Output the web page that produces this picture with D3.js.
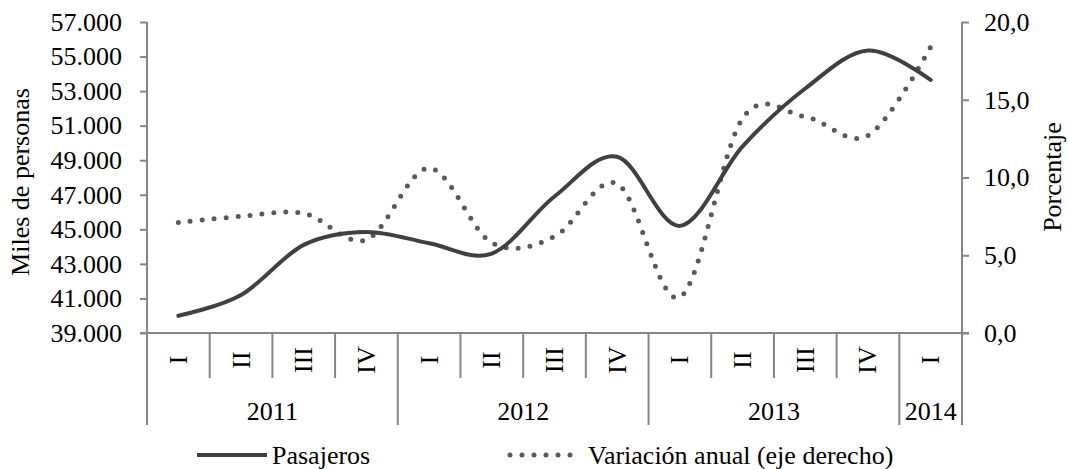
<!DOCTYPE html>
<html>
<head>
<meta charset="utf-8">
<script src="https://cdn.jsdelivr.net/npm/d3@7"></script>
<style>
  body { margin: 0; background: #fff; }
  text { font-family: "Liberation Serif", "Times New Roman", serif; fill: #000; }
</style>
</head>
<body>
<svg id="chart" width="1068" height="469"></svg>
<script>
const quarters = ["I", "II", "III", "IV", "I", "II", "III", "IV", "I", "II", "III", "IV", "I"];
const years = [
  { label: "2011", count: 4 },
  { label: "2012", count: 4 },
  { label: "2013", count: 4 },
  { label: "2014", count: 1 }
];
const pasajeros = [40000, 41200, 44100, 44850, 44200, 43600, 46900, 49200, 45200, 49800, 53150, 55350, 53650];
const variacion = [7.1, 7.5, 7.7, 6.0, 10.6, 5.8, 6.2, 9.6, 2.3, 13.8, 13.9, 12.7, 18.4];
const leftTicks = [39000, 41000, 43000, 45000, 47000, 49000, 51000, 53000, 55000, 57000];
const rightTicks = [0, 5, 10, 15, 20];

const FONT = 26;
const AXIS_COLOR = "#868686";
const PLOT_LEFT = 147, PLOT_RIGHT = 962, PLOT_TOP = 22, PLOT_BOTTOM = 333;

const svg = d3.select("#chart");

const x = d3.scaleBand().domain(d3.range(quarters.length)).range([PLOT_LEFT, PLOT_RIGHT]);
const yL = d3.scaleLinear().domain([39000, 57000]).range([PLOT_BOTTOM, PLOT_TOP]);
const yR = d3.scaleLinear().domain([0, 20]).range([PLOT_BOTTOM, PLOT_TOP]);

const fmtL = (d) => d3.format(",")(d).replace(/,/g, ".");
const fmtR = (d) => d.toFixed(1).replace(".", ",");

// left axis
const axisL = svg.append("g").attr("transform", `translate(${PLOT_LEFT},0)`)
  .call(d3.axisLeft(yL).tickValues(leftTicks).tickSize(7).tickPadding(18).tickFormat(fmtL));
axisL.select(".domain").remove();
axisL.append("line").attr("x1", 0).attr("x2", 0).attr("y1", PLOT_TOP).attr("y2", PLOT_BOTTOM);

// right axis
const axisR = svg.append("g").attr("transform", `translate(${PLOT_RIGHT},0)`)
  .call(d3.axisRight(yR).tickValues(rightTicks).tickSize(7).tickPadding(15).tickFormat(fmtR));
axisR.select(".domain").remove();
axisR.append("line").attr("x1", 0).attr("x2", 0).attr("y1", PLOT_TOP).attr("y2", PLOT_BOTTOM);

svg.selectAll(".tick text").attr("font-size", FONT).attr("font-family", "Liberation Serif").attr("fill", "#000");
svg.selectAll("g line").attr("stroke", AXIS_COLOR).attr("stroke-width", 2);

// category axis
const xa = svg.append("g");
xa.append("line").attr("x1", PLOT_LEFT - 7).attr("x2", PLOT_RIGHT + 7).attr("y1", PLOT_BOTTOM).attr("y2", PLOT_BOTTOM)
  .attr("stroke", AXIS_COLOR).attr("stroke-width", 2);

let idx = 0;
const yearStarts = [];
years.forEach((y) => { yearStarts.push(idx); idx += y.count; });
const yearBounds = new Set([...yearStarts, quarters.length]);

d3.range(quarters.length + 1).forEach((i) => {
  const xx = i < quarters.length ? x(i) : PLOT_RIGHT;
  xa.append("line").attr("x1", xx).attr("x2", xx).attr("y1", PLOT_BOTTOM)
    .attr("y2", yearBounds.has(i) ? 425 : 378)
    .attr("stroke", AXIS_COLOR).attr("stroke-width", 2);
});

xa.selectAll("text.q").data(quarters).join("text")
  .attr("class", "q")
  .attr("transform", (d, i) => `translate(${x(i) + x.bandwidth() / 2},360) rotate(-90)`)
  .attr("text-anchor", "middle")
  .attr("dominant-baseline", "central")
  .attr("font-size", FONT)
  .text((d) => d);

xa.selectAll("text.y").data(years).join("text")
  .attr("class", "y")
  .attr("x", (d, i) => {
    const s = yearStarts[i];
    const e = s + d.count;
    const xe = e < quarters.length ? x(e) : PLOT_RIGHT;
    return (x(s) + xe) / 2;
  })
  .attr("y", 420)
  .attr("text-anchor", "middle")
  .attr("font-size", FONT)
  .text((d) => d.label);

// axis titles
svg.append("text")
  .attr("transform", "translate(20,182) rotate(-90)")
  .attr("text-anchor", "middle").attr("dominant-baseline", "central")
  .attr("font-size", FONT).text("Miles de personas");
svg.append("text")
  .attr("transform", "translate(1052,177) rotate(-90)")
  .attr("text-anchor", "middle").attr("dominant-baseline", "central")
  .attr("font-size", FONT).text("Porcentaje");

// series
const cx = (i) => x(i) + x.bandwidth() / 2;
const lineL = d3.line().x((d, i) => cx(i)).y((d) => yL(d)).curve(d3.curveCatmullRom.alpha(0));
const lineR = d3.line().x((d, i) => cx(i)).y((d) => yR(d)).curve(d3.curveCatmullRom.alpha(0));

svg.append("path").datum(variacion).attr("d", lineR)
  .attr("fill", "none").attr("stroke", "#595959").attr("stroke-width", 5)
  .attr("stroke-linecap", "round").attr("stroke-dasharray", "0 12");

svg.append("path").datum(pasajeros).attr("d", lineL)
  .attr("fill", "none").attr("stroke", "#404040").attr("stroke-width", 4)
  .attr("stroke-linecap", "round");

// legend
const lg = svg.append("g");
lg.append("line").attr("x1", 197).attr("x2", 267).attr("y1", 455).attr("y2", 455)
  .attr("stroke", "#404040").attr("stroke-width", 4);
lg.append("text").attr("x", 272).attr("y", 464).attr("font-size", FONT).text("Pasajeros");
lg.append("line").attr("x1", 510).attr("x2", 582).attr("y1", 455).attr("y2", 455)
  .attr("stroke", "#595959").attr("stroke-width", 5)
  .attr("stroke-linecap", "round").attr("stroke-dasharray", "0 12");
lg.append("text").attr("x", 588).attr("y", 464).attr("font-size", FONT).text("Variación anual (eje derecho)");
</script>
</body>
</html>
